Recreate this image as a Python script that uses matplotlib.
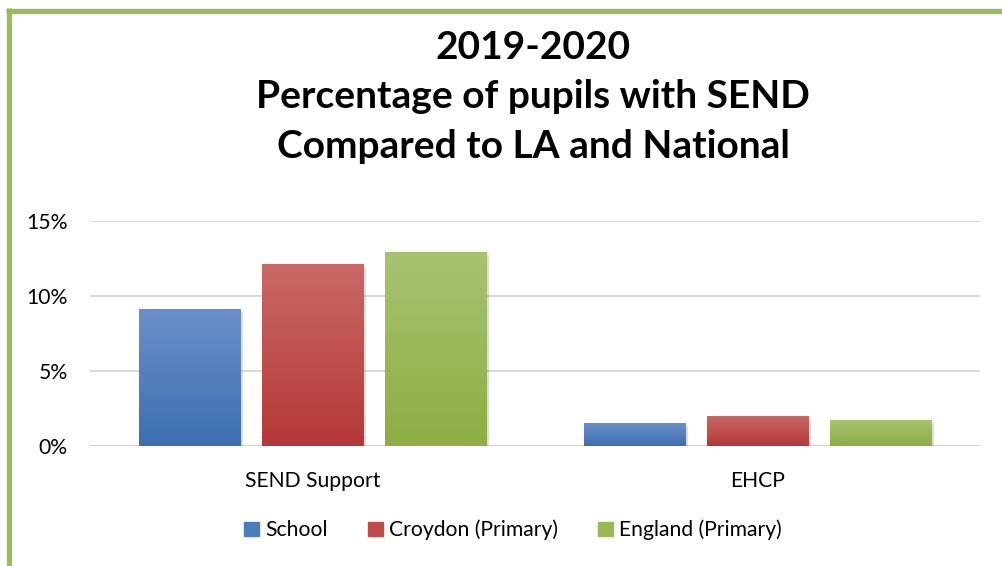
import matplotlib
matplotlib.use("Agg")
import matplotlib.pyplot as plt
import numpy as np
from matplotlib.colors import LinearSegmentedColormap
from matplotlib.patches import Rectangle
from matplotlib.lines import Line2D
import matplotlib.patheffects as pe

plt.rcParams['font.family'] = ['Lato', 'DejaVu Sans']

categories = ["SEND Support", "EHCP"]
series_names = ["School", "Croydon (Primary)", "England (Primary)"]
school = [9.1, 1.5]
croydon = [12.1, 2.0]
england = [12.9, 1.7]
yticks = [0, 5, 10, 15]
ytick_labels = ["0%", "5%", "10%", "15%"]
title = "2019-2020\nPercentage of pupils with SEND\nCompared to LA and National"

top_colors = ["#6b90c9", "#c96966", "#a8c370"]
bottom_colors = ["#3b6fb2", "#b53837", "#8cae43"]
legend_colors = ["#4a7ebb", "#be4b48", "#98b954"]

fig = plt.figure(figsize=(10.02, 5.66), dpi=100)
fig.patch.set_facecolor("white")

# green frame (top and left)
fig.add_artist(Line2D([6/1002, 1.0], [1 - 10.5/566, 1 - 10.5/566], color="#9bbb59",
                      lw=3.8, transform=fig.transFigure, solid_capstyle="butt"))
fig.add_artist(Line2D([8.5/1002, 8.5/1002], [0, 1 - 8/566], color="#9bbb59",
                      lw=3.8, transform=fig.transFigure, solid_capstyle="butt"))

ax = fig.add_axes([90/1002, 1 - 446/566, 890/1002, 225/566])
ax.set_xlim(-0.5, 1.5)
ax.set_ylim(0, 15)

x = np.arange(len(categories))
width = 0.227
step = 0.2764
data = [school, croydon, england]
for i, vals in enumerate(data):
    bars = ax.bar(x + (i - 1) * step, vals, width, color=bottom_colors[i], zorder=3,
                  label=series_names[i], linewidth=0)
    cmap = LinearSegmentedColormap.from_list("g%d" % i, [bottom_colors[i], top_colors[i]])
    for b in bars:
        b.set_path_effects([pe.SimplePatchShadow(offset=(2, -2), shadow_rgbFace="#909090", alpha=0.3),
                            pe.Normal()])
        x0, w, h = b.get_x(), b.get_width(), b.get_height()
        grad = np.linspace(0, 1, 256).reshape(-1, 1)
        ax.imshow(grad, extent=[x0, x0 + w, 0, h], origin="lower", aspect="auto",
                  cmap=cmap, zorder=4, interpolation="bilinear")
ax.set_xlim(-0.5, 1.5)
ax.set_ylim(0, 15)

ax.set_yticks(yticks)
ax.set_yticklabels(ytick_labels)
ax.set_xticks(x)
ax.set_xticklabels(categories)
ax.tick_params(axis="both", length=0, labelsize=15.2, colors="#000000")
ax.tick_params(axis="y", pad=16)
ax.tick_params(axis="x", pad=18)
ax.grid(axis="y", color="#d9d9d9", lw=1.5, zorder=0)
for s in ax.spines.values():
    s.set_visible(False)
ax.axhline(0, color="#d0d0d0", lw=1.8, zorder=2)

handles = [Rectangle((0, 0), 1, 1, color=c) for c in legend_colors]
fig.legend(handles, series_names, loc="center", bbox_to_anchor=(513/1002, 1 - 530/566),
           ncol=3, frameon=False, fontsize=15.2, handlelength=0.7, handleheight=0.7,
           handletextpad=0.3, columnspacing=1.9)

fig.text(533/1002, 1 - 97/566, title, ha="center", va="center", fontsize=28,
         fontweight="bold", linespacing=1.5)

fig.savefig("out.png", dpi=100, facecolor="white")
